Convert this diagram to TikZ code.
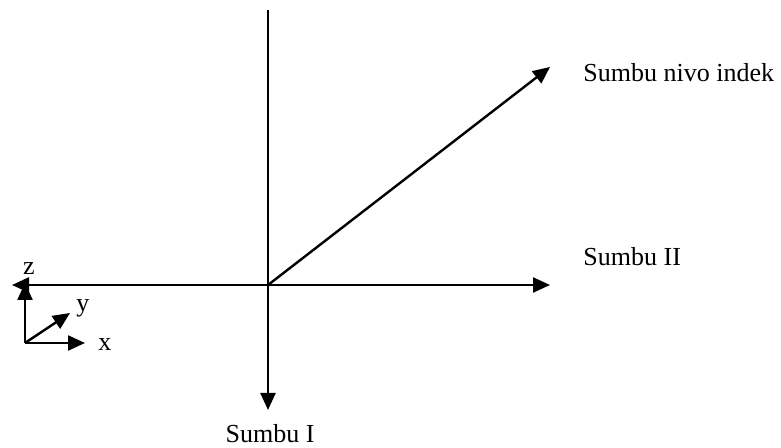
\documentclass[tikz,border=0pt]{standalone}
\usepackage{fontspec}
\setmainfont{Liberation Serif}
\usetikzlibrary{arrows.meta}
\begin{document}
\begin{tikzpicture}[
  x=0.5pt, y=0.5pt,
  axis/.style={line width=1.2pt, -{Triangle[length=8.5pt,width=7.5pt]}},
  lbl/.style={font=\fontsize{13}{15}\selectfont, inner sep=0pt}
]
\useasboundingbox (0,0) rectangle (781,448);

% --- Main axes ---
\coordinate (O) at (268,163);
\coordinate (top) at (268,438);
\coordinate (sI) at (268,38);
\coordinate (sII) at (550,163);
\coordinate (west) at (12,163);
\coordinate (nivo) at (550,381);

\draw[axis] (top) -- (sI);
\draw[axis, {Triangle[length=8.5pt,width=7.5pt]}-{Triangle[length=8.5pt,width=7.5pt]}] (west) -- (sII);
\draw[axis] (O) -- (nivo);

\node[lbl, anchor=base] (lI) at (270,5) {Sumbu I};
\node[lbl, anchor=base west] (lII) at (583,182) {Sumbu II};
\node[lbl, anchor=base west] (lnivo) at (583,366) {Sumbu nivo indek};

% --- Small xyz frame ---
\coordinate (c) at (25,105);
\coordinate (cz) at (25,165);
\coordinate (cy) at (70,135);
\coordinate (cx) at (85,105);

\draw[axis] (c) -- (cz);
\draw[axis] (c) -- (cy);
\draw[axis] (c) -- (cx);

\node[lbl, anchor=base] (lz) at (29,173) {z};
\node[lbl, anchor=base west] (ly) at (76,136) {y};
\node[lbl, anchor=base west] (lx) at (98,97) {x};
\end{tikzpicture}
\end{document}
